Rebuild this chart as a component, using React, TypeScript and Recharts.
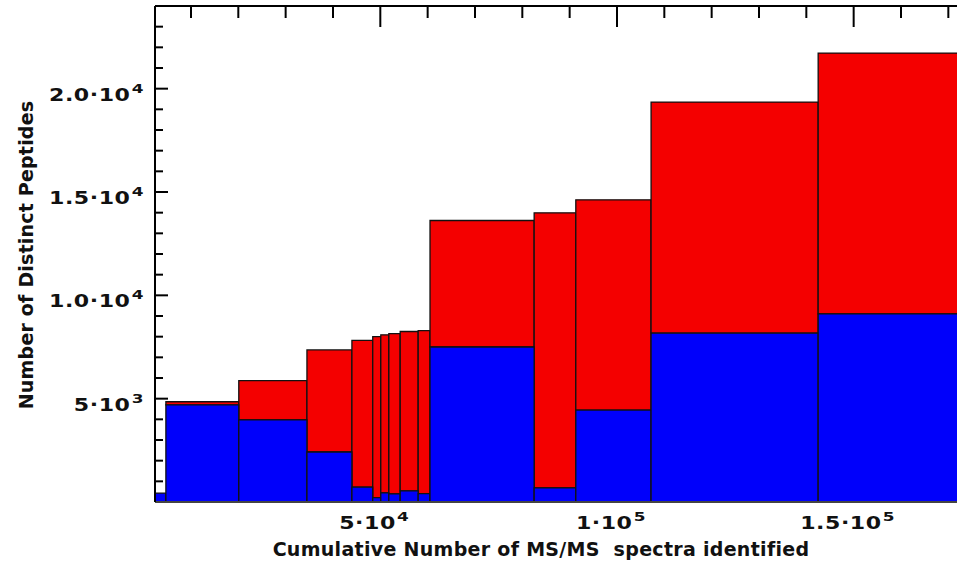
import React from "react";
import { ComposedChart, XAxis, YAxis, Line, ReferenceArea } from "recharts";

// cumulative MS/MS spectra at the right edge of each bin
const spectraEnd = [
  4700, 20100, 34500, 44000, 48400, 50100, 51800, 54200, 58000, 60500,
  82500, 91300, 107200, 142500, 180000,
];
// lower (blue) part of each bin
const peptidesBlue = [
  430, 4700, 3970, 2420, 720, 210, 440, 390, 540, 410, 7500, 680, 4450, 8170,
  9100,
];
// total height of each bin (top of red)
const peptidesTotal = [
  430, 4850, 5870, 7360, 7820, 8000, 8090, 8150, 8250, 8290, 13620, 13990,
  14620, 19350, 21720,
];

const xMinorTicks = [
  10000, 20000, 30000, 40000, 50000, 60000, 70000, 80000, 90000, 100000,
  110000, 120000, 130000, 140000, 150000, 160000, 170000, 180000,
];
const xMajorTicks = [50000, 100000, 150000];
const xMajorLabels = [
  ["5·10", "4"],
  ["1·10", "5"],
  ["1.5·10", "5"],
];
const yTicks = [
  1000, 2000, 3000, 4000, 5000, 6000, 7000, 8000, 9000, 10000, 11000, 12000,
  13000, 14000, 15000, 16000, 17000, 18000, 19000, 20000, 21000, 22000, 23000,
];
const yMajorTicks = [5000, 10000, 15000, 20000];
const yMajorLabels = [
  ["5·10", "3"],
  ["1.0·10", "4"],
  ["1.5·10", "4"],
  ["2.0·10", "4"],
];

const rows = spectraEnd.map((end, i) => ({
  start: i === 0 ? 0 : spectraEnd[i - 1],
  end,
  blue: peptidesBlue[i],
  total: peptidesTotal[i],
}));

const FONT = "'DejaVu Sans', Verdana, sans-serif";
const RED = "#f40000";
const BLUE = "#0000fb";

// tick labels in the source are drawn wide, so stretch them horizontally
const PowerText = ({ x, y, parts, anchor }: any) => (
  <g transform={`translate(${x}, ${y}) scale(1.3, 1)`}>
    <text
      x={0}
      y={0}
      textAnchor={anchor}
      fontFamily={FONT}
      fontWeight="bold"
      fontSize={17}
      letterSpacing={0.4}
      fill="#111"
    >
      <tspan>{parts[0]}</tspan>
      <tspan dy={-8} dx={1} fontSize={13}>
        {parts[1]}
      </tspan>
    </text>
  </g>
);

const LeftTick = (props: any) => {
  const { x, y, payload } = props;
  const idx = yMajorTicks.indexOf(payload.value);
  const major = idx >= 0;
  return (
    <g>
      <line x1={x} x2={x + (major ? 13 : 8)} y1={y} y2={y} stroke="#000" strokeWidth={2} />
      {major && <PowerText x={x - 11} y={y + 12} parts={yMajorLabels[idx]} anchor="end" />}
    </g>
  );
};

const TopTick = (props: any) => {
  const { x, y, payload } = props;
  const major = payload.value % 50000 === 0;
  return <line x1={x} x2={x} y1={y} y2={y + (major ? 21 : 12)} stroke="#000" strokeWidth={2} />;
};

const BottomTick = (props: any) => {
  const { x, y, payload } = props;
  const idx = xMajorTicks.indexOf(payload.value);
  if (idx < 0) return <g />;
  return <PowerText x={x - 6} y={y + 27} parts={xMajorLabels[idx]} anchor="middle" />;
};

const XTitle = () => (
  <text
    x={541}
    y={556}
    textAnchor="middle"
    fontFamily={FONT}
    fontWeight="bold"
    fontSize={19}
    letterSpacing={0.3}
    fill="#111"
    style={{ whiteSpace: "pre" }}
  >
    Cumulative Number of MS/MS  spectra identified
  </text>
);

const YTitle = () => (
  <text
    transform="translate(33, 255) rotate(-90)"
    textAnchor="middle"
    fontFamily={FONT}
    fontWeight="bold"
    fontSize={19}
    letterSpacing={0.2}
    fill="#111"
  >
    Number of Distinct Peptides
  </text>
);

export default function App() {
  return (
    <div
      style={{
        position: "absolute",
        left: 0,
        top: 0,
        width: 957,
        height: 564,
        overflow: "hidden",
        background: "#fff",
      }}
    >
      <ComposedChart
        width={1050}
        height={564}
        data={rows}
        margin={{ top: 0, right: 7, bottom: 0, left: 0 }}
      >
        <XAxis
          xAxisId="b"
          type="number"
          dataKey="end"
          domain={[2400, 190000]}
          allowDataOverflow
          ticks={xMajorTicks}
          tick={<BottomTick />}
          tickLine={false}
          tickSize={0}
          tickMargin={0}
          height={62}
          axisLine={{ stroke: "#444", strokeWidth: 2 }}
          label={<XTitle />}
          interval={0}
        />
        <XAxis
          xAxisId="t"
          orientation="top"
          type="number"
          dataKey="end"
          domain={[2400, 190000]}
          allowDataOverflow
          ticks={xMinorTicks}
          tick={<TopTick />}
          tickLine={false}
          tickSize={0}
          tickMargin={0}
          height={6}
          axisLine={{ stroke: "#000", strokeWidth: 2 }}
          interval={0}
        />
        <YAxis
          yAxisId="l"
          type="number"
          domain={[0, 24000]}
          allowDataOverflow
          ticks={yTicks}
          tick={<LeftTick />}
          tickLine={false}
          tickSize={0}
          tickMargin={0}
          width={155}
          axisLine={{ stroke: "#000", strokeWidth: 2 }}
          label={<YTitle />}
          interval={0}
        />
        {rows.map((r, i) =>
          r.total > r.blue ? (
            <ReferenceArea
              key={`red-${i}`}
              xAxisId="b"
              yAxisId="l"
              x1={r.start}
              x2={r.end}
              y1={r.blue}
              y2={r.total}
              fill={RED}
              fillOpacity={1}
              stroke="#111"
              strokeWidth={1.3}
              ifOverflow="hidden"
            />
          ) : null
        )}
        {rows.map((r, i) => (
          <ReferenceArea
            key={`blue-${i}`}
            xAxisId="b"
            yAxisId="l"
            x1={r.start}
            x2={r.end}
            y1={0}
            y2={r.blue}
            fill={BLUE}
            fillOpacity={1}
            stroke="#111"
            strokeWidth={1.3}
            ifOverflow="hidden"
          />
        ))}
        <Line
          xAxisId="b"
          yAxisId="l"
          dataKey="total"
          stroke="none"
          dot={false}
          activeDot={false}
          isAnimationActive={false}
        />
        <Line
          xAxisId="t"
          yAxisId="l"
          dataKey="blue"
          stroke="none"
          dot={false}
          activeDot={false}
          isAnimationActive={false}
        />
      </ComposedChart>
    </div>
  );
}
